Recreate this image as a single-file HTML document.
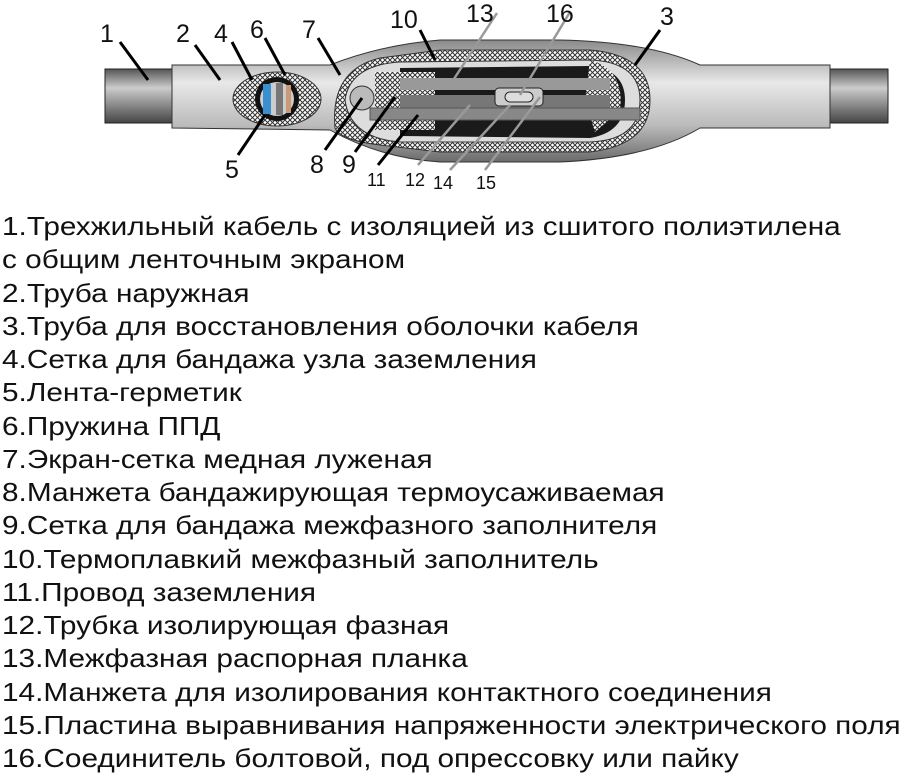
<!DOCTYPE html>
<html><head><meta charset="utf-8"><style>
body{margin:0;background:#fff;width:900px;height:775px;overflow:hidden;position:relative;font-family:"Liberation Sans",sans-serif}
svg{position:absolute;left:0;top:0}
.t{position:absolute;left:2px;top:210px;font-size:26px;line-height:33.25px;color:#111;white-space:nowrap;transform:scaleX(1.145);transform-origin:0 0}
</style></head><body>
<svg width="900" height="200" viewBox="0 0 900 200">
<defs>
<linearGradient id="g" x1="0" y1="0" x2="0" y2="1"><stop offset="0" stop-color="#8a8a8a"/><stop offset=".35" stop-color="#e8e8e8"/><stop offset=".7" stop-color="#bbb"/><stop offset="1" stop-color="#6a6a6a"/></linearGradient>
<linearGradient id="c" x1="0" y1="0" x2="0" y2="1"><stop offset="0" stop-color="#555"/><stop offset=".35" stop-color="#ccc"/><stop offset="1" stop-color="#444"/></linearGradient>
<pattern id="m" width="5" height="5" patternUnits="userSpaceOnUse"><rect width="5" height="5" fill="#fff"/><path d="M0 0L5 5M5 0L0 5" stroke="#333" stroke-width="1"/></pattern>
</defs>
<rect x="105" y="69" width="80" height="54" fill="url(#c)" stroke="#222"/>
<rect x="820" y="69" width="68" height="54" fill="url(#c)" stroke="#222"/>
<path d="M172 65 L330 65 Q380 45 440 40 L560 40 Q650 42 700 65 L830 65 L830 128 L700 128 Q650 158 560 162 L440 162 Q380 158 330 130 L172 128 Z" fill="url(#g)" stroke="#333"/>
<path d="M335 128 Q330 70 380 58 L440 50 L590 50 Q650 55 650 100 Q650 145 590 152 L440 152 L380 145 Q340 140 335 128Z" fill="url(#m)" stroke="#333"/>
<path d="M345 100 Q350 65 400 62 L590 60 Q640 62 640 100 Q640 140 590 142 L400 142 Q350 138 345 100Z" fill="#ddd" stroke="#333"/>
<path d="M400 68 L590 66 Q625 70 625 100 Q625 132 590 138 L400 136 Z" fill="#1a1a1a"/>
<rect x="375" y="72" width="60" height="58" fill="url(#m)"/>
<path d="M590 60 Q625 70 620 110 L595 132 L585 100Z" fill="url(#m)"/>
<rect x="400" y="78" width="210" height="12" fill="#999"/>
<rect x="400" y="95" width="210" height="14" fill="#777"/>
<rect x="370" y="108" width="270" height="12" fill="#888" stroke="#555"/>
<rect x="495" y="88" width="48" height="18" rx="4" fill="#ccc" stroke="#222"/>
<rect x="505" y="92" width="28" height="10" rx="5" fill="#ddd" stroke="#222"/>
<circle cx="362" cy="98" r="12" fill="#bbb" stroke="#333"/>
<ellipse cx="277" cy="99" rx="44" ry="27" fill="url(#m)" stroke="#333"/>
<circle cx="277" cy="99" r="22" fill="#111"/>
<circle cx="277" cy="99" r="17" fill="#ccc"/>
<rect x="263" y="84" width="8" height="30" fill="#3a8fd0"/>
<rect x="276" y="83" width="7" height="32" fill="#777"/>
<rect x="286" y="85" width="5" height="28" fill="#c97"/>
<g stroke="#000" stroke-width="3" fill="none">
<path d="M120 42L148 80M195 45L220 80M232 42L252 80M265 38L285 75M318 38L340 75M420 30L435 60M660 30L635 65M238 155L265 115M325 150L362 98M355 152L395 97M378 165L418 115"/></g>
<g stroke="#999" stroke-width="2.5" fill="none"><path d="M497 13L450 85M570 12L520 95M418 165L470 105M450 170L510 105M485 170L540 97"/></g>
<g font-family="Liberation Sans,sans-serif" font-size="25" fill="#111">
<text x="100" y="42">1</text><text x="176" y="42">2</text><text x="214" y="42">4</text><text x="250" y="38">6</text><text x="302" y="38">7</text><text x="390" y="28">10</text><text x="466" y="22">13</text><text x="546" y="22">16</text><text x="660" y="25">3</text><text x="225" y="178">5</text><text x="310" y="173">8</text><text x="342" y="173">9</text>
</g>
<g font-family="Liberation Sans,sans-serif" font-size="18" fill="#111">
<text x="367" y="186">11</text><text x="405" y="186">12</text><text x="433" y="189">14</text><text x="476" y="189">15</text></g>
</svg>
<div class="t">1.Трехжильный кабель с изоляцией из сшитого полиэтилена<br>с общим ленточным экраном<br>2.Труба наружная<br>3.Труба для восстановления оболочки кабеля<br>4.Сетка для бандажа узла заземления<br>5.Лента-герметик<br>6.Пружина ППД<br>7.Экран-сетка медная луженая<br>8.Манжета бандажирующая термоусаживаемая<br>9.Сетка для бандажа межфазного заполнителя<br>10.Термоплавкий межфазный заполнитель<br>11.Провод заземления<br>12.Трубка изолирующая фазная<br>13.Межфазная распорная планка<br>14.Манжета для изолирования контактного соединения<br>15.Пластина выравнивания напряженности электрического поля<br>16.Соединитель болтовой, под опрессовку или пайку</div>
</body></html>
